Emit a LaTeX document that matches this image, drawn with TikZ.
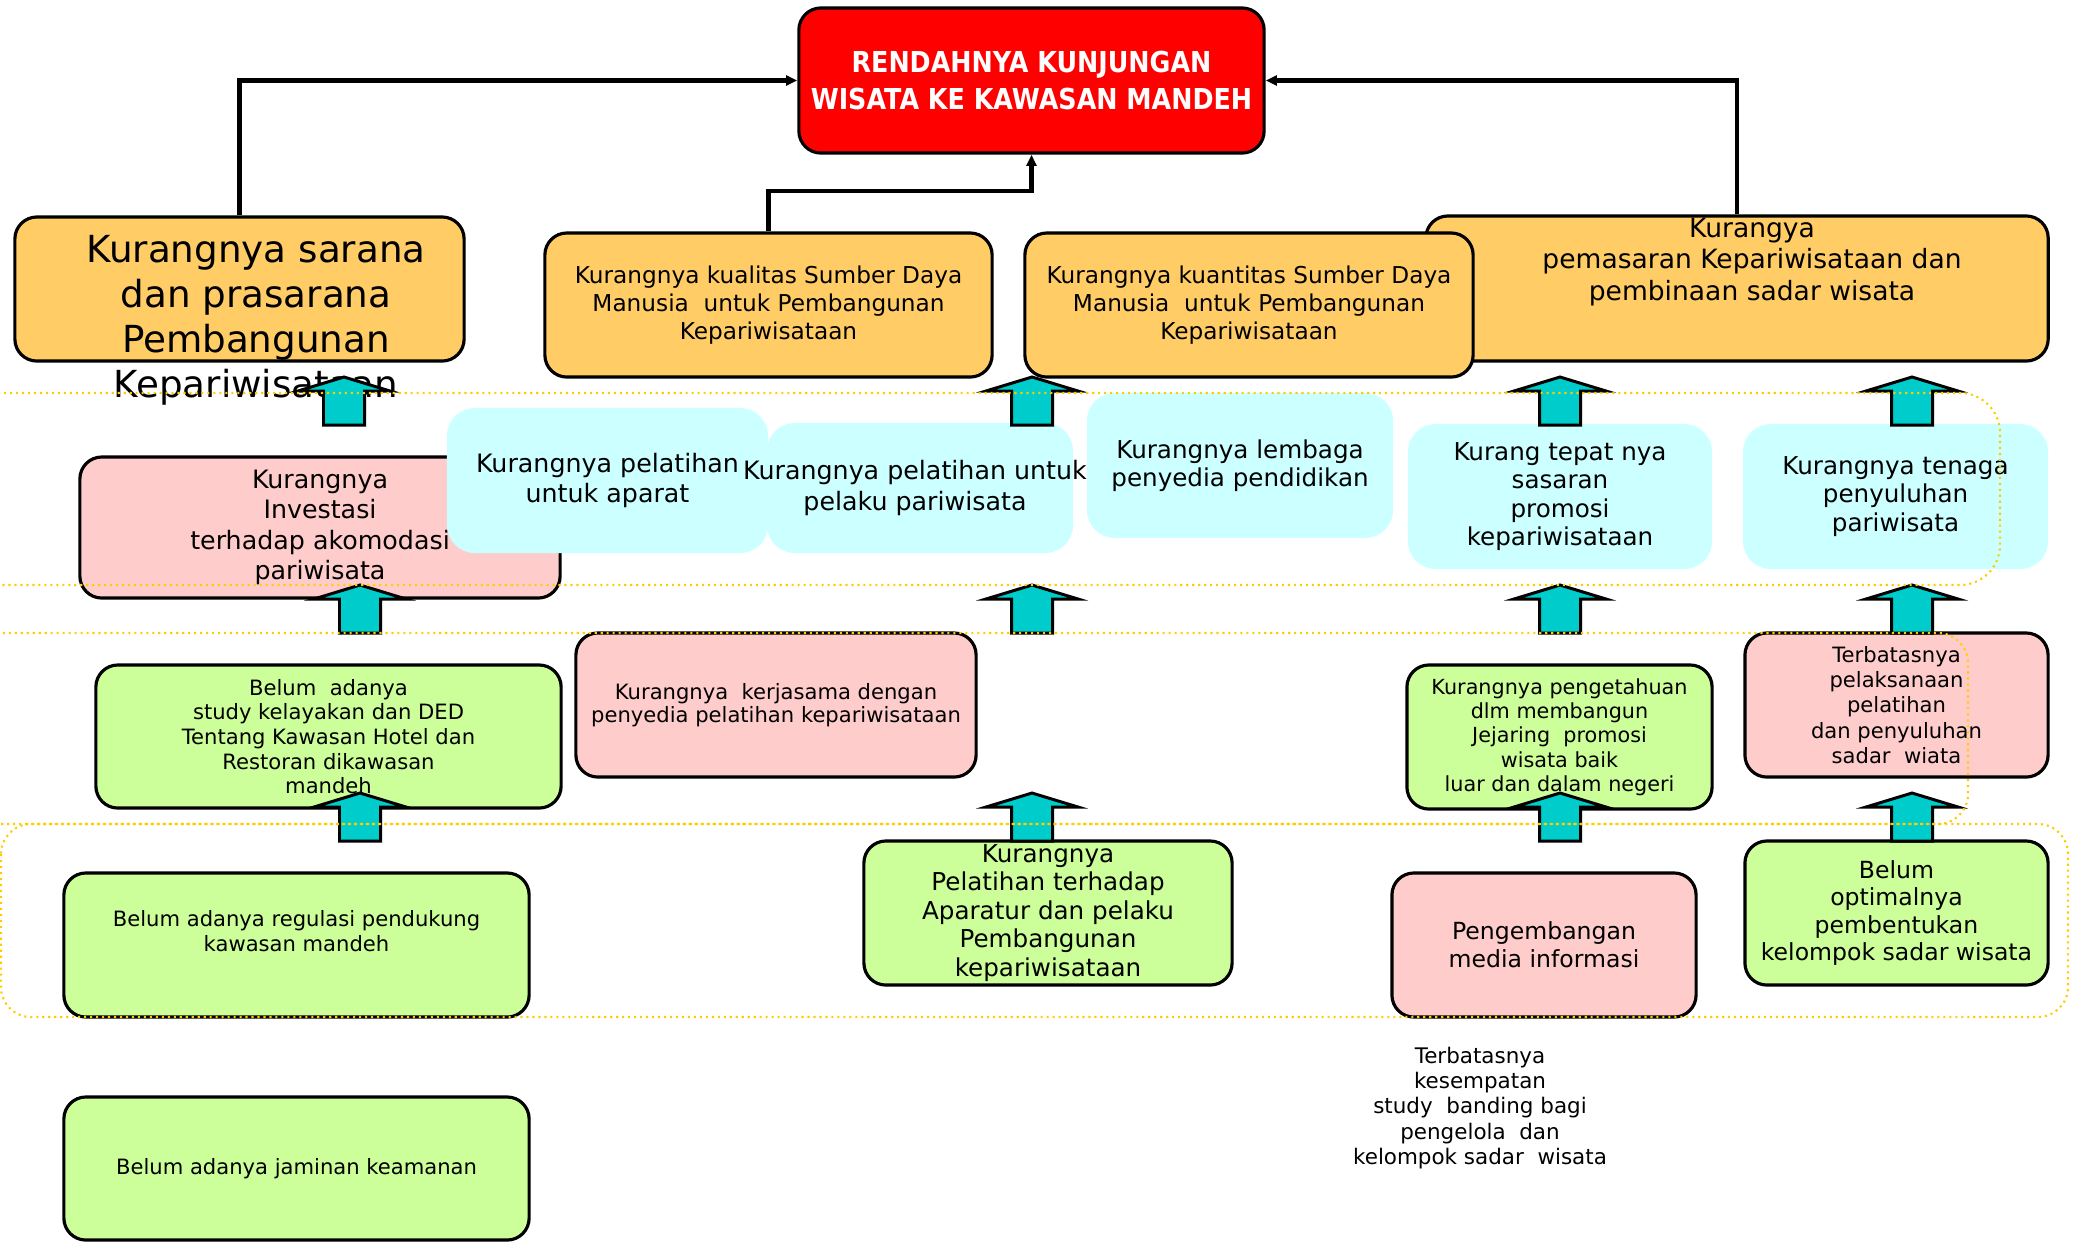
\documentclass[tikz,border=0pt]{standalone}
\usepackage{fontspec}
\setmainfont{DejaVu Sans}
\newfontfamily\titlefont[FakeStretch=0.88]{DejaVu Sans}
\usetikzlibrary{arrows.meta}
\definecolor{merah}{HTML}{FF0000}
\definecolor{oranye}{HTML}{FFCC66}
\definecolor{merahmuda}{HTML}{FFCCCC}
\definecolor{birumuda}{HTML}{CCFFFF}
\definecolor{hijau}{HTML}{CCFF99}
\definecolor{tosca}{HTML}{00CCCC}
\definecolor{kuning}{HTML}{FFCC00}
\newcommand{\fsz}[2]{\fontsize{#1}{#2}\selectfont}
\newcommand{\panah}[2]{\draw[PN] (#1-20.5,#2+48) -- (#1-20.5,#2+14) -- (#1-46,#2+14) -- (#1,#2) -- (#1+46,#2+14) -- (#1+20.5,#2+14) -- (#1+20.5,#2+48) -- cycle;}
\begin{document}
\begin{tikzpicture}[x=0.01cm,y=-0.01cm]
		\tikzstyle{BX}=[draw=black,line width=0.9pt,rounded corners=0.22cm,align=center,inner sep=0pt]
		\tikzstyle{RD}=[BX,fill=merah]
		\tikzstyle{OR}=[BX,fill=oranye]
		\tikzstyle{PK}=[BX,fill=merahmuda]
		\tikzstyle{GR}=[BX,fill=hijau]
		\tikzstyle{CY}=[fill=birumuda,rounded corners=0.28cm,align=center,inner sep=0pt]
		\tikzstyle{TX}=[align=center,inner sep=0pt]
		\tikzstyle{LN}=[line width=1.15pt,-{Triangle[length=3.2pt,width=2.8pt]}]
		\tikzstyle{PN}=[draw=black,fill=tosca,line width=0.85pt]
		\tikzstyle{DT}=[draw=kuning,line width=0.6pt,dash pattern=on 0.6pt off 1.1pt]
		\useasboundingbox (0,0) rectangle (2073,1241);
		\clip (0,0) rectangle (2073,1241);

		% level 2
		\node[OR,minimum width=4.49cm,minimum height=1.44cm] (2-1) at (239.5,289) {};
		\node[OR,minimum width=4.47cm,minimum height=1.44cm,font=\fsz{6.6}{8}] (2-2) at (768.5,305) {Kurangnya kualitas Sumber Daya\\Manusia~ untuk Pembangunan\\Kepariwisataan};
		\node[OR,minimum width=6.22cm,minimum height=1.45cm] (2-4) at (1737,288.5) {};
		\node[OR,minimum width=4.48cm,minimum height=1.44cm,font=\fsz{6.6}{8}] (2-3) at (1249,305) {Kurangnya kuantitas Sumber Daya\\Manusia~ untuk Pembangunan\\Kepariwisataan};
		\node[TX,font=\fsz{7.55}{9}] (2-4-t) at (1752,262) {Kurangya\\pemasaran Kepariwisataan dan\\pembinaan sadar wisata};

		% level 1
		\node[RD,minimum width=4.65cm,minimum height=1.45cm,text=white,font=\titlefont\bfseries\fsz{8.2}{10.5}] (1-1) at (1031.5,80.5) {RENDAHNYA KUNJUNGAN\\WISATA KE KAWASAN MANDEH};

		\draw[LN] (2-1.north) |- (1-1.west);
		\draw[LN] (2-4.north) |- (1-1.east);
		\draw[LN] (2-2.north) -- ++(0,-40) -| (1-1.south);

		% level 3
		\node[PK,minimum width=4.80cm,minimum height=1.41cm,font=\fsz{7.2}{8.6}] (3-1) at (320,527.5) {Kurangnya\\Investasi\\terhadap akomodasi\\pariwisata};
		\node[CY,minimum width=3.21cm,minimum height=1.45cm,font=\fsz{7.2}{8.6}] (3-2) at (607.5,480.5) {Kurangnya pelatihan\\untuk aparat};
		\node[CY,minimum width=3.06cm,minimum height=1.30cm] (3-3) at (920,488) {};
		\node[TX,font=\fsz{7.2}{8.6}] (3-3-t) at (915,488) {Kurangnya pelatihan untuk\\pelaku pariwisata};
		\node[CY,minimum width=3.06cm,minimum height=1.45cm,font=\fsz{7}{8.1}] (3-4) at (1240,465.5) {Kurangnya lembaga\\penyedia pendidikan};
		\node[CY,minimum width=3.04cm,minimum height=1.45cm,font=\fsz{7}{8.1}] (3-5) at (1560,496.5) {Kurang tepat nya\\sasaran\\promosi\\kepariwisataan};
		\node[CY,minimum width=3.05cm,minimum height=1.45cm,font=\fsz{7}{8.1}] (3-6) at (1895.5,496.5) {Kurangnya tenaga\\penyuluhan\\pariwisata};

		% level 4
		\node[GR,minimum width=4.65cm,minimum height=1.43cm,font=\fsz{6}{7}] (4-1) at (328.5,736.5) {Belum~ adanya\\study kelayakan dan DED\\Tentang Kawasan Hotel dan\\Restoran dikawasan\\mandeh};
		\node[PK,minimum width=4.00cm,minimum height=1.44cm,font=\fsz{6}{6.7}] (4-2) at (776,705) {Kurangnya~ kerjasama dengan\\penyedia pelatihan kepariwisataan};
		\node[GR,minimum width=3.05cm,minimum height=1.44cm,font=\fsz{5.9}{6.9}] (4-3) at (1559.5,737) {Kurangnya pengetahuan\\dlm membangun\\Jejaring~ promosi\\wisata baik\\luar dan dalam negeri};
		\node[PK,minimum width=3.03cm,minimum height=1.44cm,font=\fsz{6}{7.2}] (4-4) at (1896.5,705) {Terbatasnya\\pelaksanaan\\pelatihan\\dan penyuluhan\\sadar~ wiata};

		% level 5
		\node[GR,minimum width=4.65cm,minimum height=1.44cm] (5-1) at (296.5,945) {};
		\node[TX,font=\fsz{6}{7.1}] (5-1-t) at (296.5,931) {Belum adanya regulasi pendukung\\kawasan mandeh};
		\node[GR,minimum width=3.68cm,minimum height=1.44cm,font=\fsz{7}{8.1}] (5-2) at (1048,913) {Kurangnya\\Pelatihan terhadap\\Aparatur dan pelaku\\Pembangunan\\kepariwisataan};
		\node[PK,minimum width=3.04cm,minimum height=1.44cm,font=\fsz{6.7}{7.9}] (5-3) at (1544,945) {Pengembangan\\media informasi};
		\node[GR,minimum width=3.03cm,minimum height=1.44cm,font=\fsz{6.7}{7.8}] (5-4) at (1896.5,913) {Belum\\optimalnya\\pembentukan\\kelompok sadar wisata};
		\node[GR,minimum width=4.65cm,minimum height=1.43cm,font=\fsz{6}{7.1}] (5-5) at (296.5,1168.5) {Belum adanya jaminan keamanan};
		\node[TX,font=\fsz{6.1}{7.2}] (5-6) at (1480,1108) {Terbatasnya\\kesempatan\\study~ banding bagi\\pengelola~ dan\\kelompok sadar~ wisata};

		\node[TX,font=\fsz{10.6}{12.8}] (2-1-t) at (256,320) {Kurangnya sarana\\dan prasarana\\Pembangunan\\Kepariwisataan};

		% block arrows
		\foreach \px/\py in {344/377,360/585,360/793,1032/377,1032/585,1032/793,1560/377,1560/585,1560/793,1912/377,1912/585,1912/793}
		{\panah{\px}{\py}}

		% dotted groups
		\draw[DT,rounded corners=0.4cm] (-60,393) rectangle (2000,585);
		\draw[DT,rounded corners=0.3cm] (-60,633) rectangle (1968,824);
		\draw[DT,rounded corners=0.3cm] (1,824) rectangle (2068,1017);
\end{tikzpicture}
\end{document}
